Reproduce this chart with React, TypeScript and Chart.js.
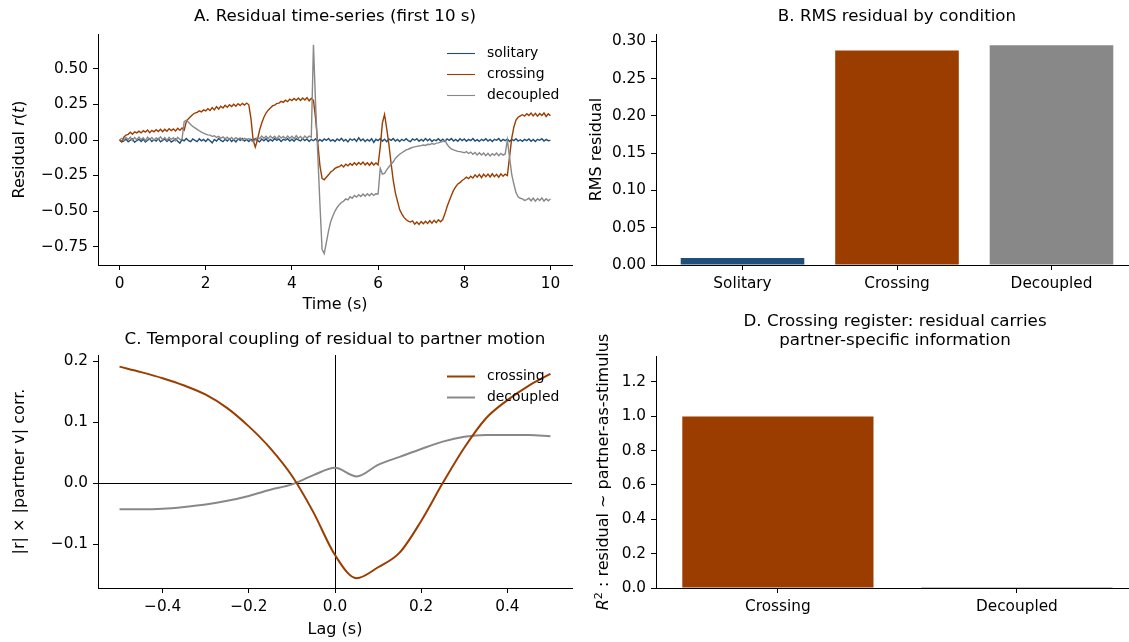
import React, { useEffect, useRef } from "react";
import { Chart, registerables } from "chart.js";

Chart.register(...registerables);

const FONT = "'DejaVu Sans', 'Liberation Sans', sans-serif";
const TICK_SIZE = 15.3;
const LABEL_SIZE = 16;
const TITLE_SIZE = 16.7;
const LEGEND_SIZE = 13.9;
const ORANGE = "#9c3d00";
const BLUE = "#1f4e79";
const GRAY = "#888888";

// ---------- Panel A: residual time-series (sampled every SAMPLE_DT seconds) ----------
const SAMPLE_DT = 0.05;
const residualSolitary = [
  0.0, -0.014, -0.006, 0.006, -0.012, -0.002, 0.008, -0.016, -0.004, 0.005,
  -0.01, 0.006, -0.014, -0.002, 0.009, -0.011, 0.003, -0.007, 0.01, -0.013,
  -0.003, 0.007, -0.01, 0.004, -0.015, -0.004, 0.008, -0.008, -0.022, 0.003,
  -0.006, 0.01, -0.005, -0.012, 0.007, -0.002, -0.011, 0.008, -0.006, 0.004,
  -0.01, 0.007, -0.005, -0.02, 0.004, -0.008, 0.01, -0.003, -0.012, 0.005,
  -0.007, 0.008, -0.01, 0.002, -0.014, 0.007, -0.003, 0.011, -0.008, 0.004,
  -0.011, 0.005, -0.007, 0.01, -0.003, -0.013, 0.007, -0.005, 0.009, -0.01,
  0.004, -0.007, 0.011, -0.003, 0.007, -0.01, 0.005, -0.002, 0.009, -0.007,
  0.005, -0.009, 0.01, 0.0, -0.007, 0.009, -0.004, 0.007, -0.01, 0.005,
  -0.005, 0.008, -0.012, 0.004, -0.009, 0.007, -0.003, 0.01, -0.007, 0.002,
  -0.01, 0.007, -0.004, 0.012, -0.007, 0.004, -0.013, 0.008, -0.002, 0.007,
  -0.009, 0.016, -0.005, 0.007, -0.01, 0.004, -0.007, 0.009, -0.017, 0.005,
  -0.004, 0.01, -0.008, 0.005, -0.012, 0.007, -0.002, 0.01, -0.007, 0.004,
  -0.01, 0.005, -0.005, 0.009, -0.004, -0.012, 0.007, -0.002, 0.009, -0.009,
  0.004, -0.007, 0.01, -0.005, 0.007, -0.01, 0.002, -0.004, 0.009, -0.007,
  0.005, -0.01, 0.007, -0.002, 0.01, -0.007, 0.004, -0.009, 0.009, -0.004,
  0.007, -0.009, 0.004, -0.005, 0.01, -0.007, 0.002, -0.01, 0.005, -0.004,
  0.009, -0.007, 0.004, -0.01, 0.005, -0.002, 0.01, -0.009, 0.004, -0.005,
  0.007, -0.01, 0.004, -0.005, 0.009, -0.007, 0.002, -0.009, 0.005, -0.004,
  0.007, -0.009, 0.004, -0.01, 0.005, -0.002, 0.009, -0.007, 0.004, -0.005,
  -0.003,
];
const residualCrossing = [
  0.0, -0.012, 0.02, 0.035, 0.04, 0.055, 0.04, 0.058, 0.05, 0.062,
  0.05, 0.065, 0.055, 0.07, 0.052, 0.068, 0.058, 0.072, 0.06, 0.075,
  0.058, 0.075, 0.062, 0.08, 0.066, 0.078, 0.064, 0.082, 0.068, 0.085,
  0.07, 0.13, 0.15, 0.165, 0.18, 0.19, 0.195, 0.205, 0.198, 0.212,
  0.205, 0.22, 0.208, 0.228, 0.212, 0.235, 0.218, 0.238, 0.225, 0.245,
  0.23, 0.248, 0.236, 0.252, 0.238, 0.256, 0.242, 0.258, 0.246, 0.26,
  0.248, 0.15, 0.0, -0.05, 0.0, 0.07, 0.12, 0.16, 0.19, 0.21,
  0.225, 0.24, 0.245, 0.258, 0.26, 0.272, 0.265, 0.28, 0.27, 0.288,
  0.278, 0.292, 0.28, 0.295, 0.278, 0.296, 0.282, 0.298, 0.276, 0.294,
  0.28, 0.15, -0.02, -0.18, -0.27, -0.28, -0.262, -0.245, -0.225, -0.215,
  -0.2, -0.192, -0.188, -0.175, -0.19, -0.17, -0.182, -0.165, -0.178, -0.16,
  -0.175, -0.158, -0.172, -0.155, -0.175, -0.16, -0.178, -0.158, -0.176, -0.162,
  -0.175, -0.05, 0.12, 0.18, 0.08, -0.03, -0.16, -0.28, -0.37, -0.43,
  -0.49, -0.52, -0.545, -0.56, -0.572, -0.578, -0.57, -0.592, -0.578, -0.595,
  -0.575, -0.59, -0.572, -0.588, -0.568, -0.585, -0.565, -0.582, -0.562, -0.575,
  -0.56, -0.52, -0.47, -0.43, -0.39, -0.355, -0.33, -0.31, -0.3, -0.285,
  -0.275, -0.262, -0.272, -0.255, -0.268, -0.245, -0.262, -0.242, -0.265, -0.24,
  -0.258, -0.24, -0.26, -0.238, -0.258, -0.242, -0.262, -0.238, -0.255, -0.24,
  -0.25, -0.12, 0.01, 0.09, 0.14, 0.16, 0.17, 0.178, 0.168, 0.185,
  0.172, 0.19, 0.17, 0.188, 0.168, 0.186, 0.172, 0.19, 0.166, 0.185,
  0.17,
];
const residualDecoupled = [
  0.0, 0.012, -0.002, 0.018, 0.004, 0.02, -0.003, 0.017, 0.002, 0.021,
  0.004, 0.016, -0.004, 0.02, 0.003, 0.018, -0.002, 0.015, 0.006, 0.022,
  0.002, 0.017, -0.003, 0.019, 0.004, 0.016, -0.005, 0.018, 0.003, 0.006,
  0.13, 0.14, 0.125, 0.11, 0.095, 0.085, 0.075, 0.065, 0.055, 0.048,
  0.042, 0.036, 0.034, 0.026, 0.03, 0.018, 0.026, 0.012, 0.022, 0.008,
  0.02, 0.004, 0.018, 0.002, 0.016, 0.006, 0.015, -0.002, 0.012, 0.004,
  0.01, -0.005, -0.012, 0.0, 0.018, 0.01, 0.028, 0.012, 0.026, 0.01,
  0.028, 0.012, 0.026, 0.008, 0.03, 0.014, 0.025, 0.01, 0.028, 0.012,
  0.026, 0.01, 0.03, 0.012, 0.025, 0.008, 0.028, 0.014, 0.027, 0.02,
  0.67, 0.25, -0.1, -0.45, -0.77, -0.8, -0.72, -0.64, -0.575, -0.535,
  -0.5, -0.475, -0.455, -0.44, -0.43, -0.415, -0.422, -0.4, -0.41, -0.39,
  -0.402, -0.385, -0.398, -0.38, -0.395, -0.378, -0.392, -0.376, -0.39, -0.378,
  -0.38, -0.2, -0.24, -0.235, -0.21, -0.19, -0.17, -0.155, -0.13, -0.115,
  -0.1, -0.09, -0.08, -0.07, -0.065, -0.058, -0.052, -0.048, -0.045, -0.042,
  -0.04, -0.035, -0.038, -0.03, -0.032, -0.025, -0.03, -0.022, -0.02, -0.015,
  -0.012, -0.002, -0.03, -0.05, -0.062, -0.07, -0.075, -0.08, -0.082, -0.085,
  -0.09, -0.082, -0.095, -0.085, -0.1, -0.088, -0.105, -0.09, -0.106, -0.092,
  -0.11, -0.094, -0.112, -0.096, -0.108, -0.092, -0.11, -0.095, -0.106, -0.098,
  0.0, -0.12, -0.24, -0.31, -0.37, -0.4, -0.41, -0.415, -0.425, -0.42,
  -0.41, -0.428, -0.41, -0.43, -0.412, -0.426, -0.408, -0.43, -0.414, -0.428,
  -0.415,
];
const timeTicks = [0, 2, 4, 6, 8, 10];
const residualTicks = [-0.75, -0.5, -0.25, 0, 0.25, 0.5];

// ---------- Panel B: RMS residual ----------
const rmsCategories = ["Solitary", "Crossing", "Decoupled"];
const rmsValues = [0.0095, 0.288, 0.295];
const rmsColors = [BLUE, ORANGE, GRAY];
const rmsTicks = [0, 0.05, 0.1, 0.15, 0.2, 0.25, 0.3];

// ---------- Panel C: temporal coupling ----------
const lagValues = [
  -0.5, -0.45, -0.4, -0.35, -0.3, -0.25, -0.2, -0.15, -0.1, -0.05, 0,
  0.05, 0.1, 0.15, 0.2, 0.25, 0.3, 0.35, 0.4, 0.45, 0.5,
];
const couplingCrossing = [
  0.191, 0.182, 0.172, 0.16, 0.145, 0.123, 0.093, 0.057, 0.012, -0.048, -0.118,
  -0.156, -0.138, -0.114, -0.062, 0.0, 0.058, 0.106, 0.136, 0.16, 0.179,
];
const couplingDecoupled = [
  -0.043, -0.043, -0.042, -0.039, -0.035, -0.029, -0.021, -0.011, -0.002, 0.013, 0.025,
  0.011, 0.03, 0.043, 0.056, 0.068, 0.076, 0.079, 0.079, 0.079, 0.077,
];
const lagTicks = [-0.4, -0.2, 0, 0.2, 0.4];
const couplingTicks = [-0.1, 0, 0.1, 0.2];

// ---------- Panel D: R^2 ----------
const r2Categories = ["Crossing", "Decoupled"];
const r2Values = [0.998, 0.004];
const r2Colors = [ORANGE, GRAY];
const r2Ticks = [0, 0.2, 0.4, 0.6, 0.8, 1.0, 1.2];

// ---------- helpers ----------
const fmt = (d: number) => (v: number) => v.toFixed(d).replace("-", "\u2212");

function makeAxis(o: {
  min: number;
  max: number;
  ticks: number[];
  label: (v: number) => string;
  size: number;
  horizontal: boolean;
  title?: string;
  titlePad?: { top?: number; bottom?: number };
}): any {
  return {
    type: "linear",
    min: o.min,
    max: o.max,
    offset: false,
    border: { display: true, color: "#000", width: 1 },
    grid: {
      display: true,
      offset: false,
      drawOnChartArea: false,
      drawTicks: true,
      tickLength: 5,
      tickColor: "#000",
      tickWidth: 1,
    },
    ticks: {
      color: "#000",
      font: { family: FONT, size: TICK_SIZE },
      padding: 5,
      autoSkip: false,
      maxRotation: 0,
      minRotation: 0,
      callback: (v: any) => o.label(Number(v)),
    },
    afterBuildTicks: (s: any) => {
      s.ticks = o.ticks.map((v) => ({ value: v }));
    },
    afterFit: (s: any) => {
      if (o.horizontal) s.height = o.size;
      else s.width = o.size;
    },
    title: o.title
      ? {
          display: true,
          text: o.title,
          color: "#000",
          font: { family: FONT, size: LABEL_SIZE, lineHeight: 1.2 },
          padding: o.titlePad || {},
        }
      : { display: false },
  };
}

function titleCfg(text: string | string[], top: number, bottom: number, lineHeight = 1.2): any {
  return {
    display: true,
    text,
    color: "#000",
    fullSize: false,
    align: "center",
    font: { family: FONT, size: TITLE_SIZE, weight: "normal", lineHeight },
    padding: { top, bottom },
  };
}

const insideLegend = (offsetTop: number, spacing: number, lineWidth: number) => ({
  id: "insideLegend",
  afterDraw(chart: any) {
    const { ctx, chartArea } = chart;
    ctx.save();
    ctx.font = `${LEGEND_SIZE}px ${FONT}`;
    ctx.textBaseline = "middle";
    ctx.textAlign = "left";
    chart.data.datasets.forEach((ds: any, i: number) => {
      const y = Math.round(chartArea.top + offsetTop + i * spacing) + 0.5;
      ctx.strokeStyle = ds.borderColor;
      ctx.lineWidth = lineWidth;
      ctx.beginPath();
      ctx.moveTo(chartArea.right - 125, y);
      ctx.lineTo(chartArea.right - 97, y);
      ctx.stroke();
      ctx.fillStyle = "#000";
      ctx.fillText(ds.label, chartArea.right - 85, y);
    });
    ctx.restore();
  },
});

type Seg = { text: string; italic?: boolean; sup?: boolean };
const mixedYLabel = (segs: Seg[], dx: number) => ({
  id: "mixedYLabel",
  afterDraw(chart: any) {
    const { ctx, chartArea } = chart;
    const cx = chartArea.left - dx;
    const cy = (chartArea.top + chartArea.bottom) / 2;
    const fontFor = (s: Seg) => `${s.italic ? "italic " : ""}${s.sup ? 11.2 : LABEL_SIZE}px ${FONT}`;
    ctx.save();
    let total = 0;
    for (const s of segs) {
      ctx.font = fontFor(s);
      total += ctx.measureText(s.text).width;
    }
    ctx.translate(cx, cy);
    ctx.rotate(-Math.PI / 2);
    ctx.fillStyle = "#000";
    ctx.textBaseline = "middle";
    ctx.textAlign = "left";
    let x = -total / 2;
    for (const s of segs) {
      ctx.font = fontFor(s);
      ctx.fillText(s.text, x, s.sup ? -5 : 0);
      x += ctx.measureText(s.text).width;
    }
    ctx.restore();
  },
});

const zeroLines = {
  id: "zeroLines",
  beforeDatasetsDraw(chart: any) {
    const { ctx, chartArea, scales } = chart;
    const x0 = Math.round(scales.x.getPixelForValue(0)) + 0.5;
    const y0 = Math.round(scales.y.getPixelForValue(0)) + 0.5;
    ctx.save();
    ctx.strokeStyle = "#000";
    ctx.lineWidth = 1;
    ctx.beginPath();
    ctx.moveTo(chartArea.left, y0);
    ctx.lineTo(chartArea.right, y0);
    ctx.moveTo(x0, chartArea.top);
    ctx.lineTo(x0, chartArea.bottom);
    ctx.stroke();
    ctx.restore();
  },
};

const baseOptions = (padRight: number) => ({
  responsive: false,
  animation: false as const,
  devicePixelRatio: 1,
  events: [] as any[],
  layout: { padding: { left: 0, top: 0, right: padRight, bottom: 0 } },
});

const toSeries = (vals: number[]) => vals.map((v, i) => ({ x: +(i * SAMPLE_DT).toFixed(2), y: v }));

// ---------- chart configs ----------
function configA(): any {
  return {
    type: "line",
    data: {
      datasets: [
        { label: "solitary", data: toSeries(residualSolitary), borderColor: BLUE, borderWidth: 1.4, pointRadius: 0, order: 2 },
        { label: "crossing", data: toSeries(residualCrossing), borderColor: ORANGE, borderWidth: 1.4, pointRadius: 0, order: 1 },
        { label: "decoupled", data: toSeries(residualDecoupled), borderColor: GRAY, borderWidth: 1.4, pointRadius: 0, order: 0 },
      ],
    },
    options: {
      ...baseOptions(8),
      scales: {
        x: makeAxis({ min: -0.5, max: 10.5, ticks: timeTicks, label: fmt(0), size: 55, horizontal: true, title: "Time (s)", titlePad: { top: 0, bottom: 5.4 } }),
        y: makeAxis({ min: -0.88, max: 0.746, ticks: residualTicks, label: fmt(2), size: 98, horizontal: false }),
      },
      plugins: {
        legend: { display: false },
        tooltip: { enabled: false },
        title: titleCfg("A. Residual time-series (first 10 s)", 7, 7),
      },
    },
    plugins: [
      insideLegend(19, 21, 1.1),
      mixedYLabel([{ text: "Residual " }, { text: "r", italic: true }, { text: "(" }, { text: "t", italic: true }, { text: ")" }], 78),
    ],
  };
}

function configB(): any {
  return {
    type: "bar",
    data: {
      datasets: [
        {
          label: "RMS residual",
          data: rmsValues.map((v, i) => ({ x: i, y: v })),
          backgroundColor: rmsColors,
          borderWidth: 0,
          categoryPercentage: 1,
          barPercentage: 0.8,
        },
      ],
    },
    options: {
      ...baseOptions(0),
      scales: {
        x: makeAxis({ min: -0.56, max: 2.56, ticks: [0, 1, 2], label: (v) => rmsCategories[v] ?? "", size: 55, horizontal: true }),
        y: makeAxis({ min: 0, max: 0.31, ticks: rmsTicks, label: fmt(2), size: 76, horizontal: false, title: "RMS residual", titlePad: { top: 7.4, bottom: 0 } }),
      },
      plugins: {
        legend: { display: false },
        tooltip: { enabled: false },
        title: titleCfg("B. RMS residual by condition", 7, 7),
      },
    },
  };
}

function configC(): any {
  return {
    type: "line",
    data: {
      datasets: [
        {
          label: "crossing",
          data: lagValues.map((x, i) => ({ x, y: couplingCrossing[i] })),
          borderColor: ORANGE,
          borderWidth: 2,
          pointRadius: 0,
          cubicInterpolationMode: "monotone",
        },
        {
          label: "decoupled",
          data: lagValues.map((x, i) => ({ x, y: couplingDecoupled[i] })),
          borderColor: GRAY,
          borderWidth: 2,
          pointRadius: 0,
          cubicInterpolationMode: "monotone",
        },
      ],
    },
    options: {
      ...baseOptions(8),
      scales: {
        x: makeAxis({ min: -0.55, max: 0.55, ticks: lagTicks, label: fmt(1), size: 54, horizontal: true, title: "Lag (s)", titlePad: { top: 0, bottom: 2.4 } }),
        y: makeAxis({ min: -0.172, max: 0.21, ticks: couplingTicks, label: fmt(1), size: 98, horizontal: false, title: "|r| \u00d7 |partner v| corr.", titlePad: { top: 10.4, bottom: 0 } }),
      },
      plugins: {
        legend: { display: false },
        tooltip: { enabled: false },
        title: titleCfg("C. Temporal coupling of residual to partner motion", 10, 5),
      },
    },
    plugins: [zeroLines, insideLegend(21, 21, 2)],
  };
}

function configD(): any {
  return {
    type: "bar",
    data: {
      datasets: [
        {
          label: "R2",
          data: r2Values.map((v, i) => ({ x: i, y: v })),
          backgroundColor: r2Colors,
          borderWidth: 0,
          categoryPercentage: 1,
          barPercentage: 0.8,
          minBarLength: 1,
        },
      ],
    },
    options: {
      ...baseOptions(0),
      scales: {
        x: makeAxis({ min: -0.51, max: 1.49, ticks: [0, 1], label: (v) => r2Categories[v] ?? "", size: 54, horizontal: true }),
        y: makeAxis({ min: 0, max: 1.35, ticks: r2Ticks, label: fmt(1), size: 76, horizontal: false }),
      },
      plugins: {
        legend: { display: false },
        tooltip: { enabled: false },
        title: titleCfg(["D. Crossing register: residual carries", "partner-specific information"], 12.5, 5.5, 1.138),
      },
    },
    plugins: [
      mixedYLabel([{ text: "R", italic: true }, { text: "2", sup: true }, { text: " : residual ~ partner-as-stimulus" }], 52),
    ],
  };
}

function ChartBox(props: { make: () => any; left: number; top: number; width: number; height: number }) {
  const ref = useRef<HTMLCanvasElement>(null);
  useEffect(() => {
    const chart = new Chart(ref.current as HTMLCanvasElement, props.make());
    return () => chart.destroy();
  }, []);
  return (
    <canvas
      ref={ref}
      width={props.width}
      height={props.height}
      style={{ position: "absolute", left: props.left, top: props.top, width: props.width, height: props.height }}
    />
  );
}

export default function App() {
  return (
    <div
      style={{
        position: "fixed",
        left: 0,
        top: 0,
        width: 1129,
        height: 642,
        overflow: "hidden",
        background: "#fff",
      }}
    >
      <ChartBox make={configA} left={0} top={0} width={580} height={320} />
      <ChartBox make={configB} left={580} top={0} width={558} height={320} />
      <ChartBox make={configC} left={0} top={320} width={580} height={322} />
      <ChartBox make={configD} left={580} top={300} width={554} height={342} />
    </div>
  );
}
